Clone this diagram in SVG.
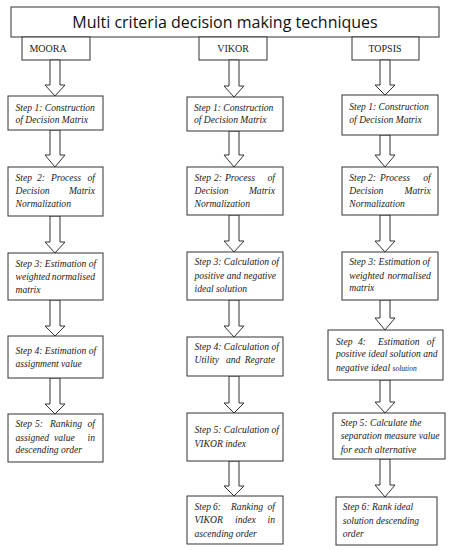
<svg xmlns="http://www.w3.org/2000/svg" width="450" height="550" viewBox="0 0 450 550">
<style>
rect{fill:#fff;stroke:#333;stroke-width:1}
.c polygon{fill:#fff;stroke:#333;stroke-width:1}
.t{font-family:"Open Sans","DejaVu Sans",sans-serif;font-size:16px;fill:#111;text-anchor:middle}
.h{font-family:"Liberation Serif",serif;font-size:10px;fill:#222;text-anchor:middle}
.s{font-family:"Liberation Serif",serif;font-style:italic;font-size:9.6px;fill:#222}
.e{text-anchor:end}
</style>
<rect width="450" height="550" style="stroke:none"/>
<g id="title"><rect x="11" y="7" width="428" height="30"/><text class="t" x="225" y="28">Multi criteria decision making techniques</text></g>
<g id="moora"><rect x="22" y="37" width="68" height="23"/><text class="h" x="48" y="52">MOORA</text></g>
<g id="vikor"><rect x="199" y="37" width="68" height="23"/><text class="h" x="233" y="52">VIKOR</text></g>
<g id="topsis"><rect x="352" y="37" width="67" height="23"/><text class="h" x="385" y="52">TOPSIS</text></g>
<g class="c" id="connectors">
<polygon points="50,60 60,60 60,85 65,85 55,96 45,85 50,85"/>
<polygon points="50,130 60,130 60,155 65,155 55,167 45,155 50,155"/>
<polygon points="50,216 60,216 60,242 65,242 55,253 45,242 50,242"/>
<polygon points="50,300 60,300 60,326 65,326 55,336 45,326 50,326"/>
<polygon points="50,378 60,378 60,404 65,404 55,414 45,404 50,404"/>
<polygon points="229,60 239,60 239,86 244,86 234,97 224,86 229,86"/>
<polygon points="229,131 239,131 239,155 244,155 234,167 224,155 229,155"/>
<polygon points="229,215 239,215 239,241 244,241 234,252 224,241 229,241"/>
<polygon points="229,300 239,300 239,326 244,326 234,337 224,326 229,326"/>
<polygon points="229,376 239,376 239,403 244,403 234,413 224,403 229,403"/>
<polygon points="229,461 239,461 239,486 244,486 234,496 224,486 229,486"/>
<polygon points="380,60 390,60 390,85 395,85 385,95 375,85 380,85"/>
<polygon points="380,135 390,135 390,155 395,155 385,167 375,155 380,155"/>
<polygon points="380,215 390,215 390,241 395,241 385,252 375,241 380,241"/>
<polygon points="380,300 390,300 390,318 395,318 385,330 375,318 380,318"/>
<polygon points="380,380 390,380 390,402 395,402 385,413 375,402 380,402"/>
<polygon points="380,459 390,459 390,485 395,485 385,497 375,485 380,485"/>
</g>
<g id="m1"><rect x="8" y="96" width="95" height="34"/><text class="s" x="15.5" y="110.7">Step 1: Construction</text><text class="s" x="15.5" y="123.3">of Decision Matrix</text></g>
<g id="m2"><rect x="8" y="167" width="95" height="49"/><text class="s" y="180.7"><tspan x="15.5">Step</tspan><tspan x="37">2:</tspan><tspan x="51">Process</tspan></text><text class="s e" x="95" y="180.7">of</text><text class="s" x="15.5" y="194">Decision</text><text class="s e" x="95" y="194">Matrix</text><text class="s" x="15.5" y="207">Normalization</text></g>
<g id="m3"><rect x="8" y="253" width="95" height="47"/><text class="s" x="15.5" y="266.7">Step 3: Estimation of</text><text class="s" x="15.5" y="280">weighted</text><text class="s e" x="95" y="280">normalised</text><text class="s" x="15.5" y="292.7">matrix</text></g>
<g id="m4"><rect x="8" y="336" width="95" height="42"/><text class="s" x="15.5" y="354">Step 4: Estimation of</text><text class="s" x="15.5" y="366.7">assignment value</text></g>
<g id="m5"><rect x="8" y="414" width="95" height="48"/><text class="s" y="427.3"><tspan x="15.5">Step</tspan><tspan x="35">5:</tspan><tspan x="50">Ranking</tspan></text><text class="s e" x="95" y="427.3">of</text><text class="s" y="440.7"><tspan x="15.5">assigned</tspan><tspan x="54">value</tspan></text><text class="s e" x="95" y="440.7">in</text><text class="s" x="15.5" y="453.3">descending order</text></g>
<g id="v1"><rect x="187" y="97" width="96" height="34"/><text class="s" x="194" y="110.7">Step 1: Construction</text><text class="s" x="194" y="123.3">of Decision Matrix</text></g>
<g id="v2"><rect x="187" y="167" width="96" height="48"/><text class="s" y="180.7"><tspan x="194.5">Step</tspan><tspan x="214">2:</tspan><tspan x="225">Process</tspan></text><text class="s e" x="275" y="180.7">of</text><text class="s" x="194.5" y="194">Decision</text><text class="s e" x="275" y="194">Matrix</text><text class="s" x="194.5" y="207">Normalization</text></g>
<g id="v3"><rect x="187" y="252" width="96" height="48"/><text class="s" x="194.5" y="265">Step 3: Calculation of</text><text class="s" x="194.5" y="279.3">positive and negative</text><text class="s" x="194.5" y="291.7">ideal solution</text></g>
<g id="v4"><rect x="187" y="337" width="96" height="39"/><text class="s" x="194.5" y="350">Step 4: Calculation of</text><text class="s" y="363.3"><tspan x="194.5">Utility</tspan><tspan x="226">and</tspan></text><text class="s e" x="275" y="363.3">Regrate</text></g>
<g id="v5"><rect x="187" y="413" width="96" height="48"/><text class="s" x="194.5" y="432.7">Step 5: Calculation of</text><text class="s" x="194.5" y="446.7">VIKOR index</text></g>
<g id="v6"><rect x="187" y="496" width="96" height="48"/><text class="s" y="510"><tspan x="194.5">Step</tspan><tspan x="213">6:</tspan><tspan x="231">Ranking</tspan></text><text class="s e" x="275" y="510">of</text><text class="s" y="523.3"><tspan x="194.5">VIKOR</tspan><tspan x="235">index</tspan></text><text class="s e" x="275" y="523.3">in</text><text class="s" x="194.5" y="536.7">ascending order</text></g>
<g id="t1"><rect x="342" y="95" width="96" height="40"/><text class="s" x="349.3" y="110">Step 1: Construction</text><text class="s" x="349.3" y="123.3">of Decision Matrix</text></g>
<g id="t2"><rect x="342" y="167" width="96" height="48"/><text class="s" y="180.7"><tspan x="349.3">Step</tspan><tspan x="368">2:</tspan><tspan x="380">Process</tspan></text><text class="s e" x="430.7" y="180.7">of</text><text class="s" x="349.3" y="194">Decision</text><text class="s e" x="430.7" y="194">Matrix</text><text class="s" x="349.3" y="207.3">Normalization</text></g>
<g id="t3"><rect x="342" y="252" width="96" height="48"/><text class="s" x="349.3" y="265">Step 3: Estimation of</text><text class="s" x="349.3" y="279.3">weighted</text><text class="s e" x="430.7" y="279.3">normalised</text><text class="s" x="349.3" y="291">matrix</text></g>
<g id="t4"><rect x="328" y="330" width="115" height="50"/><text class="s" y="345"><tspan x="336">Step</tspan><tspan x="358">4:</tspan><tspan x="378">Estimation</tspan></text><text class="s e" x="434.3" y="345">of</text><text class="s" x="336" y="357.3">positive ideal solution and</text><text class="s" x="336" y="370.7">negative ideal <tspan style="font-size:7.5px">solution</tspan></text></g>
<g id="t5"><rect x="333" y="413" width="112" height="46"/><text class="s" x="340.7" y="426">Step 5: Calculate the</text><text class="s" x="340.7" y="439.3">separation measure value</text><text class="s" x="340.7" y="452.7">for each alternative</text></g>
<g id="t6"><rect x="336" y="497" width="101" height="48"/><text class="s" x="342.7" y="510">Step 6: Rank ideal</text><text class="s" x="342.7" y="524">solution descending</text><text class="s" x="342.7" y="536.7">order</text></g>
</svg>
